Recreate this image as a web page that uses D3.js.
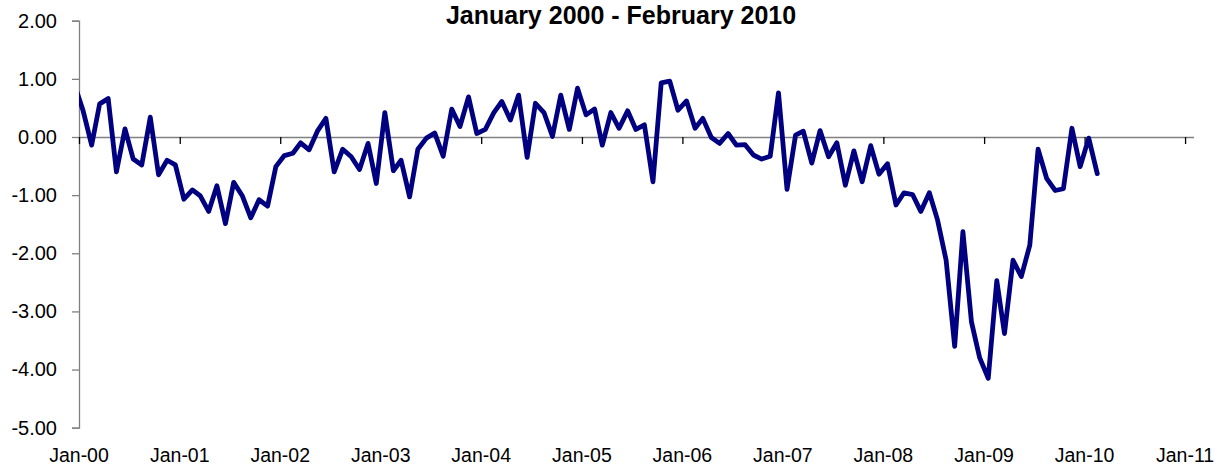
<!DOCTYPE html>
<html>
<head>
<meta charset="utf-8">
<script src="https://cdn.jsdelivr.net/npm/d3@7"></script>
<style>
  html, body { margin: 0; padding: 0; background: #fff; }
  svg { display: block; }
  text { font-family: "Liberation Sans", Arial, sans-serif; fill: #000; }
</style>
</head>
<body>
<svg id="chart" width="1219" height="466"></svg>
<script>
// ---- Data ----
const title = "January 2000 - February 2010";
// first series month (the Dec-99 value only feeds the clipped lead-in segment)
const firstMonth = [1999, 11];
const values = [
  0.90,
  // 2000
  0.45, -0.14, 0.57, 0.66, -0.60, 0.14, -0.38, -0.48, 0.34, -0.65, -0.40, -0.48,
  // 2001
  -1.07, -0.91, -1.01, -1.28, -0.84, -1.49, -0.78, -1.01, -1.39, -1.08, -1.19, -0.51,
  // 2002
  -0.32, -0.28, -0.10, -0.22, 0.10, 0.32, -0.60, -0.21, -0.34, -0.56, -0.11, -0.80,
  // 2003
  0.42, -0.58, -0.40, -1.03, -0.21, -0.02, 0.07, -0.33, 0.48, 0.18, 0.69, 0.06,
  // 2004
  0.13, 0.42, 0.61, 0.29, 0.72, -0.35, 0.58, 0.42, 0.01, 0.72, 0.13, 0.84,
  // 2005
  0.38, 0.48, -0.14, 0.42, 0.15, 0.45, 0.13, 0.21, -0.77, 0.93, 0.96, 0.46,
  // 2006
  0.62, 0.15, 0.32, -0.01, -0.11, 0.06, -0.14, -0.13, -0.31, -0.38, -0.33, 0.76,
  // 2007
  -0.90, 0.03, 0.10, -0.45, 0.11, -0.34, -0.10, -0.83, -0.24, -0.77, -0.15, -0.64,
  // 2008
  -0.46, -1.17, -0.96, -0.99, -1.28, -0.96, -1.43, -2.12, -3.60, -1.63, -3.18, -3.80,
  // 2009
  -4.15, -2.47, -3.38, -2.12, -2.40, -1.86, -0.21, -0.71, -0.92, -0.89, 0.15, -0.51,
  // 2010
  -0.02, -0.63
];
const yTicks = [2, 1, 0, -1, -2, -3, -4, -5];
const xTickYears = [2000, 2001, 2002, 2003, 2004, 2005, 2006, 2007, 2008, 2009, 2010, 2011];

(function () {
  const svg = d3.select("#chart");
  const mLeft = 79, mRight = 1193.6, mTop = 20.7, mBottom = 427.7;

  const x = d3.scaleTime()
    .domain([new Date(2000, 0, 1), new Date(2011, 1, 1)])
    .range([mLeft, mRight]);
  const y = d3.scaleLinear().domain([-5, 2]).range([mBottom, mTop]);

  const points = values.map((v, i) => ({
    date: new Date(firstMonth[0], firstMonth[1] + i, 16),
    value: v
  }));

  const loc = d3.formatLocale({decimal: ".", thousands: ",", grouping: [3], currency: ["$", ""], minus: "-"});
  const fmtY = loc.format(".2f");
  const fmtX = d3.timeFormat("%b-%y");

  // Title
  svg.append("text")
    .attr("x", 621).attr("y", 24)
    .attr("text-anchor", "middle")
    .style("font-weight", "bold")
    .style("font-size", "25px")
    .text(title);

  // Y axis
  const yAxis = d3.axisLeft(y).tickValues(yTicks).tickFormat(fmtY).tickSize(7).tickPadding(15);
  const gy = svg.append("g").attr("transform", `translate(${mLeft},0)`).call(yAxis);
  gy.select(".domain").attr("stroke", "#808080").attr("stroke-width", 1.3);
  gy.selectAll(".tick line").attr("stroke", "#808080").attr("stroke-width", 1.3);
  gy.selectAll(".tick text").style("font-size", "20px").style("font-family", "'Liberation Sans', Arial, sans-serif").attr("fill", "#000");

  // X axis along zero line (ticks down), labels at bottom
  const xTicks = xTickYears.map(yr => new Date(yr, 0, 1));
  const xAxis = d3.axisBottom(x).tickValues(xTicks).tickFormat("").tickSize(7).tickSizeOuter(0);
  const gx = svg.append("g").attr("transform", `translate(0,${y(0)})`).call(xAxis);
  gx.select(".domain").attr("stroke", "#808080").attr("stroke-width", 1.3);
  gx.selectAll(".tick line").attr("stroke", "#000").attr("stroke-width", 1.3);

  svg.append("g").selectAll("text")
    .data(xTicks)
    .join("text")
    .attr("x", d => x(d))
    .attr("y", 461.5)
    .attr("text-anchor", "middle")
    .style("font-size", "19.5px")
    .text(d => fmtX(d));

  // Clip
  svg.append("clipPath").attr("id", "plotclip")
    .append("rect").attr("x", mLeft).attr("y", 0).attr("width", mRight - mLeft).attr("height", 466);

  // Line
  const line = d3.line().x(d => x(d.date)).y(d => y(d.value));
  svg.append("path")
    .datum(points)
    .attr("clip-path", "url(#plotclip)")
    .attr("fill", "none")
    .attr("stroke", "#000080")
    .attr("stroke-width", 4.8)
    .attr("stroke-linejoin", "round")
    .attr("stroke-linecap", "round")
    .attr("d", line);
})();
</script>
</body>
</html>
